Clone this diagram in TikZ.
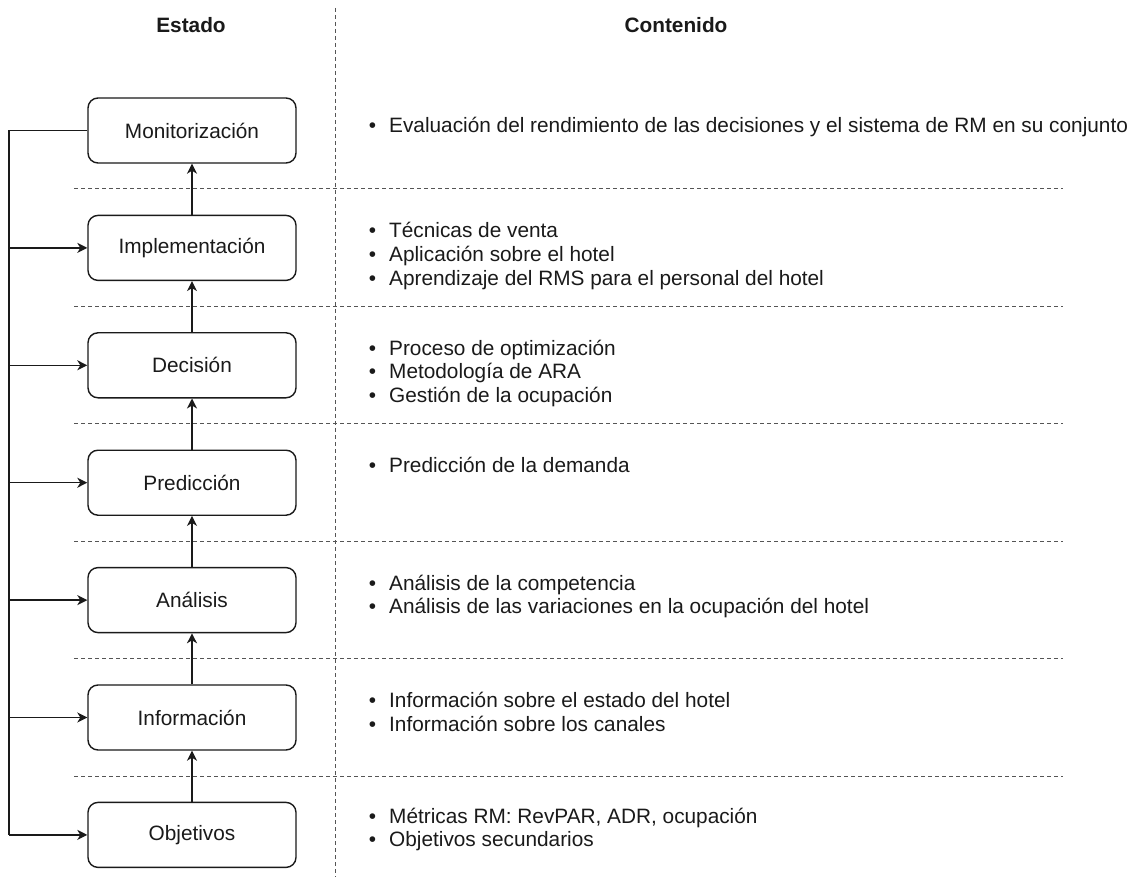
\documentclass[tikz,border=0pt]{standalone}
\usepackage{fontspec}
\setmainfont{Liberation Sans}
\usetikzlibrary{arrows.meta}
\definecolor{ink}{HTML}{1A1A1A}
\definecolor{sep}{HTML}{555555}
\begin{document}
\begin{tikzpicture}[x=1pt,y=-1pt,
  every node/.style={font=\fontsize{20.8}{23.6}\selectfont, text=ink},
  stage/.style={draw=ink, line width=1.4pt, rounded corners=10pt,
    minimum width=208pt, minimum height=65pt, inner sep=0pt},
  flow/.style={draw=ink, line width=1.4pt, -{Stealth[length=10pt,width=10pt,inset=3pt]}},
  link/.style={draw=ink, line width=1.4pt},
  divider/.style={draw=sep, line width=1pt, dash pattern=on 4pt off 3pt},
  header/.style={font=\fontsize{20.8}{23.6}\selectfont\bfseries, anchor=base},
  item/.style={anchor=base west, inner sep=0pt}]
\useasboundingbox[fill=white] (0,0) rectangle (1133,877);

% column headers
\node[header] (hEstado) at (191,33) {Estado};
\node[header] (hCont) at (676,33) {Contenido};

% column separator
\coordinate (colTop) at (335,8);
\coordinate (colBot) at (335,877);
\draw[divider] (colTop) -- (colBot);

% row separators
\foreach \k/\yy in {1/189, 2/306.4, 3/423.8, 4/541.2, 5/658.6, 6/776}{
  \coordinate (sL\k) at (74,\yy);
  \coordinate (sR\k) at (1063,\yy);
  \draw[divider] (sL\k) -- (sR\k);
}

% stages
\node[stage] (mon)  at (192,130.5) {Monitorización};
\node[stage] (impl) at (192,247.9) {Implementación};
\node[stage] (dec)  at (192,365.3) {Decisión};
\node[stage] (pred) at (192,482.7) {Predicción};
\node[stage] (ana)  at (192,600.1) {Análisis};
\node[stage] (inf)  at (192,717.5) {Información};
\node[stage] (obj)  at (192,834.9) {Objetivos};

% upward flow
\draw[flow] (obj) -- (inf);
\draw[flow] (inf) -- (ana);
\draw[flow] (ana) -- (pred);
\draw[flow] (pred) -- (dec);
\draw[flow] (dec) -- (impl);
\draw[flow] (impl) -- (mon);

% feedback loop
\coordinate (fbTop) at (9,130.5);
\coordinate (fbBot) at (9,834.9);
\draw[link] (mon.west) -- (fbTop) -- (fbBot);
\draw[flow] (fbBot) -- (obj.west);
\foreach \n in {impl,dec,pred,ana,inf}{
  \draw[flow] (fbTop |- \n.west) -- (\n.west);
}

% contents: one bulleted line per node
\newcommand{\itm}[1]{\makebox[21pt][l]{\hspace*{0.6pt}\textbullet}#1}
\node[item] (cMon1) at (368,133) {\itm{Evaluación del rendimiento de las decisiones y el sistema de RM en su conjunto}};

\node[item] (cImpl1) at (368,238) {\itm{Técnicas de venta}};
\node[item] (cImpl2) at (368,261.6) {\itm{Aplicación sobre el hotel}};
\node[item] (cImpl3) at (368,285.2) {\itm{Aprendizaje del RMS para el personal del hotel}};

\node[item] (cDec1) at (368,355.4) {\itm{Proceso de optimización}};
\node[item] (cDec2) at (368,379) {\itm{Metodología de ARA}};
\node[item] (cDec3) at (368,402.6) {\itm{Gestión de la ocupación}};

\node[item] (cPred1) at (368,472.8) {\itm{Predicción de la demanda}};

\node[item] (cAna1) at (368,590.2) {\itm{Análisis de la competencia}};
\node[item] (cAna2) at (368,613.8) {\itm{Análisis de las variaciones en la ocupación del hotel}};

\node[item] (cInf1) at (368,707.6) {\itm{Información sobre el estado del hotel}};
\node[item] (cInf2) at (368,731.2) {\itm{Información sobre los canales}};

\node[item] (cObj1) at (368,823) {\itm{Métricas RM: RevPAR, ADR, ocupación}};
\node[item] (cObj2) at (368,846.6) {\itm{Objetivos secundarios}};
\end{tikzpicture}
\end{document}
